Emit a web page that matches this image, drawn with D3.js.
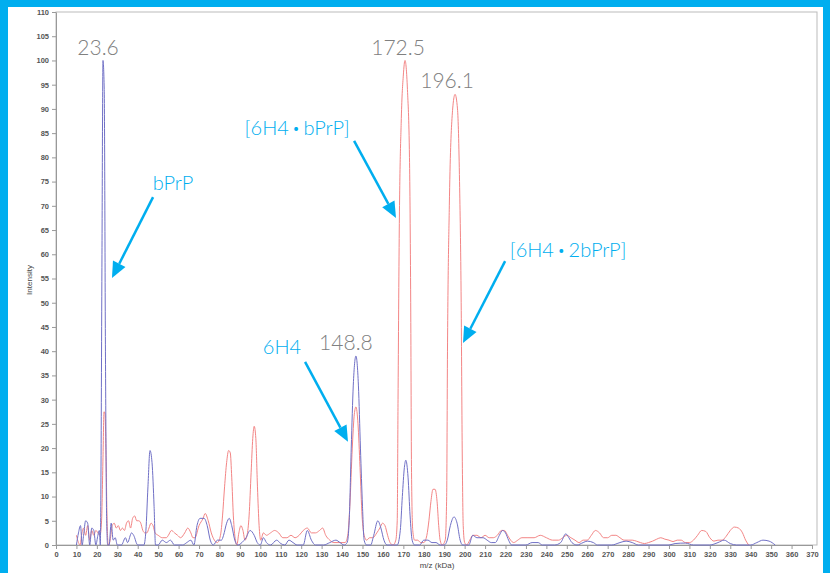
<!DOCTYPE html>
<html>
<head>
<meta charset="utf-8">
<script src="https://cdn.jsdelivr.net/npm/d3@7"></script>
<style>
    body { margin: 0; background: #00aeef; }
    svg { display: block; }
</style>
</head>
<body>
<div id="chart"></div>
<script>
// m/z (kDa) vs intensity
var blueSeries = [[10,0],[11,2.5],[12,4],[12.8,0],[13.5,2],[14.5,5],[15.5,4.5],[16.5,0],[17.5,3.5],[18.5,3],[19.5,0],[20.5,2],[21.2,3],[21.7,0],[22,14],[22.5,60],[23,100],[23.6,94],[24.2,40],[24.8,5],[25.3,0],[26,0],[27,4.5],[28,1],[29,1.5],[30,0],[32,0],[34,1.5],[35,0.5],[37,2.5],[38,2],[40,0],[43,0],[44,3],[45,12],[46,19.5],[47,17],[48,8],[48.7,0],[50,0],[52,1],[54,0.5],[56,1],[58,0],[62,0],[64,0.5],[66,1],[67.5,0],[69,4],[70.5,5.5],[72.5,5.5],[74,4],[75.5,1],[77,0],[79,1],[81,1],[82,2],[83.5,4.5],[84.8,5.5],[86,4],[87.5,1],[89,0],[91,0.5],[93,1.5],[95,3],[97,2],[98.5,0.5],[100,0],[101.5,1.5],[103,0.5],[105,0],[108,1],[110,0.3],[112,0],[114,1],[116,0.5],[118,0],[121,0],[123,3],[125,1],[127,0],[131,0],[134,0.5],[137,1],[139,0.5],[141,0],[142.5,0.5],[143.5,5],[144.5,20],[145.5,33],[146.8,39],[148,33],[149,20],[150,8],[150.8,1],[152,0],[154,0],[155.5,2],[157.5,5],[159,3.5],[160.5,1],[162,0],[165,0],[167,0],[168.5,3],[169.5,10],[170.5,16],[171.2,17.5],[172.3,14],[173.3,6],[174.3,1],[175.5,0],[178,0],[180,1],[182,1],[184,0.5],[186,0.5],[188,0],[190,0],[191.5,1],[193,4],[194.8,5.8],[196.3,4.5],[197.8,1],[199,0],[202,0],[204,2],[206,1.5],[209,1.5],[211,1],[213,0.5],[215,0.5],[217,2],[218.5,3],[220,2.5],[221.5,1],[223,0],[230,0],[233,0.5],[236,0.5],[238,0],[244,0],[247,0.5],[249.5,2.3],[251,1.5],[252.5,0.5],[255,0],[258,0.5],[260,0.8],[263,0.5],[265,0],[272,0],[276,0.5],[279,0.8],[282,0.5],[285,0],[300,0],[303,0.3],[308,0.4],[312,0],[320,0],[324,0.5],[327,1],[330,0.3],[333,0],[340,0],[343,0.5],[346,1],[349,0.8],[352,0]];

var redSeries = [[10,2],[11,0.5],[11.8,0],[12.5,2],[13.5,3.5],[14.5,2],[15.5,4],[16.5,1],[17.5,3],[18.5,2],[19.5,3],[20.5,2.5],[21.5,2],[22.3,5],[23,18],[23.5,27.5],[24,27],[24.5,18],[25,5],[25.6,0],[26.5,1],[27.5,4],[28.5,4.5],[29.5,3.5],[30.5,4],[31.5,3],[32.5,3.5],[33.5,3],[34.5,4.5],[35.5,5],[36.5,3.5],[37.5,5.5],[38.5,6],[39.5,5],[40.5,5],[41.5,4.5],[42.5,3],[43.5,2.5],[44.5,2.5],[45.5,3.5],[46.5,4.5],[47.5,4],[48.5,2.5],[50,2],[52,1.5],[54,1.5],[55,2],[56.5,3],[58,2.5],[59.5,2],[61,1.5],[63,2.5],[64.5,3.5],[66,2.5],[67,1.5],[68,1.5],[70,4],[72,5.5],[73,6.5],[74.5,5],[76,2.5],[77.5,1],[79,0.5],[80.5,2],[81.5,6],[82.5,12],[83.5,17],[84.5,19.5],[85.3,19],[86,14],[86.8,6],[87.8,1],[88.5,0],[89.5,2.5],[90.5,4],[91.5,3],[92.5,1],[93.5,2],[94.5,6],[95.5,15],[96.3,22],[97,24.5],[97.8,22],[98.6,12],[99.4,4],[100.2,1],[101.5,2.5],[103,2],[105,2.5],[107,3],[109,2.5],[111,1.5],[113,1.5],[115,2],[117,1.5],[119,2],[121,3],[123,3.5],[125,2.5],[127,2.5],[129,3],[130.5,3.5],[132,2],[134,1],[136,0.5],[138,0.5],[140,0.5],[141.5,0.5],[142.8,2],[143.8,8],[145,20],[146,27],[146.8,28.5],[147.8,25],[148.8,16],[149.8,6],[150.8,2],[152,1],[153.5,1.5],[155,1.5],[157,2.5],[158.5,3.5],[159.8,4.5],[161,4],[162.3,2],[163.5,0.5],[165,0],[166.3,1],[167,5],[167.4,30],[168,65],[169,88],[170,97],[170.8,100],[172,94],[173,80],[173.6,50],[174,15],[174.6,3],[175.5,1],[177,1],[178.5,0.5],[180,0.5],[181.5,2],[182.5,5],[183.5,9],[184.5,11.5],[185.5,11.5],[186.5,9],[187.3,4],[188,1],[189,0],[190.5,1],[191.2,10],[191.6,40],[192.5,70],[193.8,88],[195.3,93],[196.5,90],[197.5,75],[198.3,50],[198.8,20],[199.3,4],[200,0.5],[201,0],[202.5,1],[204,2],[206,2],[208,1.5],[210,2],[212,1.5],[214,1.5],[216,2],[218,3],[219.5,3],[221,2],[222.5,1],[224,0.5],[226,1],[228,1.5],[231,1.5],[234,1.5],[237,2],[240,1.5],[243,1],[246,1],[248,1.5],[250,2],[252,1.5],[254,1],[256,0.5],[258,1],[260,1],[262,2],[264,3],[266,2.5],[268,1.5],[270,1.5],[272,2],[274,2],[276,1.5],[278,1],[280,1],[282,1],[284,0.8],[286,0.5],[288,0.3],[290,0.5],[292,0.8],[294,1.2],[296,1.5],[298,1.2],[300,1],[302,0.7],[304,1],[306,1],[308,0.5],[310,0.5],[312,1],[314,2],[316,3],[318,2.8],[320,1.5],[322,0.8],[324,1],[326,1],[328,1.8],[330,3],[332,3.7],[334,3.5],[336,2.5],[337.5,1],[339,0]];

var xTicks = d3.range(0, 371, 10);
var yTicks = d3.range(0, 111, 5);

// peak values written over the peaks (label, m/z, intensity where the text sits)
var peakLabels = [["23.6", 20.6, 101.1], ["172.5", 167.4, 101.1], ["196.1", 191.4, 94.3], ["148.8", 141.9, 40.2]];

// species names with arrows: label parts, label pos, arrow start, arrow tip (data units)
var speciesLabels = [
    [["bPrP"], 57.3, 73.3, 47.5, 71.8, 27.4, 55.1],
    [["[6H4", "bPrP]"], 118, 84.6, 145.9, 83.4, 166.4, 67.5],
    [["[6H4", "2bPrP]"], 250.6, 59.4, 219.8, 58.6, 199.2, 41.7],
    [["6H4"], 110.6, 39.4, 121.9, 37.8, 142.9, 21.3]
];

var W = 830, H = 573;
var plotLeft = 56, plotRight = 812, plotTop = 12, plotBottom = 545;
var cyan = "#00aeef";

var svg = d3.select("#chart").append("svg").attr("width", W).attr("height", H);

svg.append("rect").attr("width", W).attr("height", H).attr("fill", cyan);
svg.append("rect").attr("x", 8).attr("y", 7).attr("width", 815).attr("height", H - 7).attr("fill", "#fff");

var x = d3.scaleLinear().domain([0, 370]).range([plotLeft, plotRight]);
var y = d3.scaleLinear().domain([0, 110]).range([plotBottom, plotTop]);

// frame
svg.append("rect")
    .attr("x", plotLeft).attr("y", plotTop)
    .attr("width", plotRight + 5 - plotLeft).attr("height", plotBottom - plotTop)
    .attr("fill", "none").attr("stroke", "#bbb").attr("stroke-width", 1);

var xAxis = svg.append("g")
    .attr("transform", "translate(0," + plotBottom + ")")
    .call(d3.axisBottom(x).tickValues(xTicks).tickSize(4).tickPadding(3).tickSizeOuter(0));
var yAxis = svg.append("g")
    .attr("transform", "translate(" + plotLeft + ",0)")
    .call(d3.axisLeft(y).tickValues(yTicks).tickSize(4).tickPadding(3).tickSizeOuter(0));

[xAxis, yAxis].forEach(function (a) {
    a.select(".domain").attr("stroke", "#999");
    a.selectAll(".tick line").attr("stroke", "#999");
    a.selectAll("text")
        .attr("font-family", "Liberation Sans, Arial, sans-serif")
        .attr("font-size", 7.5)
        .attr("font-weight", "bold")
        .attr("fill", "#555");
});

svg.append("text")
    .text("m/z (kDa)")
    .attr("x", 437).attr("y", 568)
    .attr("text-anchor", "middle")
    .attr("font-family", "Liberation Sans, Arial, sans-serif")
    .attr("font-size", 8).attr("fill", "#444");
svg.append("text")
    .text("Intensity")
    .attr("transform", "translate(32,280) rotate(-90)")
    .attr("text-anchor", "middle")
    .attr("font-family", "Liberation Sans, Arial, sans-serif")
    .attr("font-size", 8).attr("fill", "#444");

var line = d3.line()
    .x(function (d) { return x(d[0]); })
    .y(function (d) { return y(d[1]); })
    .curve(d3.curveMonotoneX);

svg.append("path").datum(redSeries)
    .attr("d", line)
    .attr("fill", "none").attr("stroke", "#f38585").attr("stroke-width", 1);
svg.append("path").datum(blueSeries)
    .attr("d", line)
    .attr("fill", "none").attr("stroke", "#7070c6").attr("stroke-width", 1);

// peak value labels
svg.selectAll(".peak").data(peakLabels).enter().append("text")
    .attr("class", "peak")
    .text(function (d) { return d[0]; })
    .attr("x", function (d) { return x(d[1]); })
    .attr("y", function (d) { return y(d[2]); })
    .attr("text-anchor", "middle")
    .attr("font-family", "Lato, sans-serif")
    .attr("font-weight", 300)
    .attr("font-size", 21)
    .attr("fill", "#808080");

// species labels and arrows
var species = svg.selectAll(".species").data(speciesLabels).enter().append("g").attr("class", "species");

species.each(function (d) {
    var g = d3.select(this);
    var label = g.append("text")
        .attr("x", x(d[1]))
        .attr("y", y(d[2]))
        .attr("text-anchor", "middle")
        .attr("font-family", "Lato, sans-serif")
        .attr("font-weight", 300)
        .attr("font-size", 20)
        .attr("fill", cyan);
    d[0].forEach(function (part, i) {
        if (i > 0) {
            label.append("tspan").text(" \u2022 ").attr("font-size", 13).attr("dy", -2);
            label.append("tspan").text(part).attr("dy", 2);
        } else {
            label.append("tspan").text(part);
        }
    });

    var x0 = x(d[3]), y0 = y(d[4]), x1 = x(d[5]), y1 = y(d[6]);
    var dx = x1 - x0, dy = y1 - y0, len = Math.sqrt(dx * dx + dy * dy);
    var ux = dx / len, uy = dy / len;
    var headLen = 16, headW = 7;
    var bx = x1 - ux * headLen, by = y1 - uy * headLen;
    g.append("line")
        .attr("x1", x0).attr("y1", y0).attr("x2", bx).attr("y2", by)
        .attr("stroke", cyan).attr("stroke-width", 2.5);
    g.append("path")
        .attr("d", "M" + x1 + "," + y1 +
            "L" + (bx - uy * headW) + "," + (by + ux * headW) +
            "L" + (bx + uy * headW) + "," + (by - ux * headW) + "Z")
        .attr("fill", cyan);
});
</script>
</body>
</html>
